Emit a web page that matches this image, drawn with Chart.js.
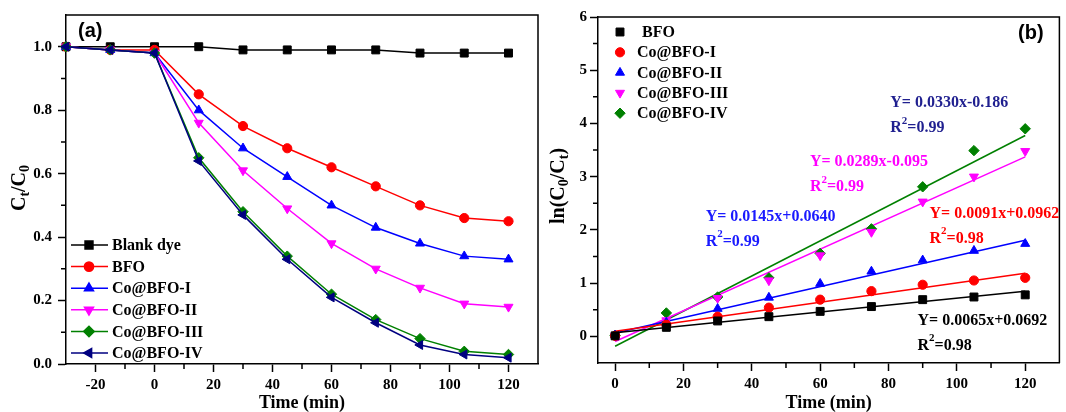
<!DOCTYPE html>
<html>
<head>
<meta charset="utf-8">
<script src="https://cdn.jsdelivr.net/npm/chart.js@4.4.0/dist/chart.umd.min.js"></script>
<style>
  html, body { margin: 0; padding: 0; background: #fff; }
  #wrap { position: relative; width: 1066px; height: 412px; overflow: hidden; }
  #ca { position: absolute; left: 0; top: 0; }
  #cb { position: absolute; left: 540px; top: 0; }
</style>
</head>
<body>
<div id="wrap">
  <canvas id="ca" width="545" height="412"></canvas>
  <canvas id="cb" width="526" height="412"></canvas>
</div>
<script>
// ---- panel (a): Ct/C0 vs time ----
const timeA = [-30, -15, 0, 15, 30, 45, 60, 75, 90, 105, 120];
const blankDye = [1.0, 1.0, 1.0, 1.0, 0.99, 0.99, 0.99, 0.99, 0.98, 0.98, 0.98];
const bfoA     = [1.0, 0.99, 0.99, 0.85, 0.75, 0.68, 0.62, 0.56, 0.50, 0.46, 0.45];
const coBfo1A  = [1.0, 0.99, 0.98, 0.80, 0.68, 0.59, 0.50, 0.43, 0.38, 0.34, 0.33];
const coBfo2A  = [1.0, 0.99, 0.98, 0.76, 0.61, 0.49, 0.38, 0.30, 0.24, 0.19, 0.18];
const coBfo3A  = [1.0, 0.99, 0.98, 0.65, 0.48, 0.34, 0.22, 0.14, 0.08, 0.04, 0.03];
const coBfo4A  = [1.0, 0.99, 0.98, 0.64, 0.47, 0.33, 0.21, 0.13, 0.06, 0.03, 0.02];
const labelsA = ['Blank dye', 'BFO', 'Co@BFO-I', 'Co@BFO-II', 'Co@BFO-III', 'Co@BFO-IV'];
const xTicksA = [-20, 0, 20, 40, 60, 80, 100, 120];
const xMinorA = [-10, 10, 30, 50, 70, 90, 110];
const yTicksA = [0, 0.2, 0.4, 0.6, 0.8, 1.0];
const yMinorA = [0.1, 0.3, 0.5, 0.7, 0.9];

// ---- panel (b): ln(C0/Ct) vs time ----
const timeB = [0, 15, 30, 45, 60, 75, 90, 105, 120];
const bfoB    = [0.01, 0.17, 0.29, 0.37, 0.47, 0.56, 0.69, 0.74, 0.78];
const coBfo1B = [0.01, 0.22, 0.37, 0.54, 0.69, 0.85, 0.97, 1.05, 1.10];
const coBfo2B = [0.02, 0.26, 0.52, 0.73, 0.99, 1.22, 1.43, 1.61, 1.74];
const coBfo3B = [0.01, 0.30, 0.72, 1.05, 1.52, 1.96, 2.53, 3.00, 3.48];
const coBfo4B = [0.02, 0.44, 0.74, 1.10, 1.56, 2.02, 2.81, 3.49, 3.90];
const labelsB = ['BFO', 'Co@BFO-I', 'Co@BFO-II', 'Co@BFO-III', 'Co@BFO-IV'];
const fitSlope = [0.0065, 0.0091, 0.0145, 0.0289, 0.0330];
const fitIntercept = [0.0692, 0.0962, 0.0640, -0.095, -0.186];
const fitRange = [0, 120];
const eqText = ['Y= 0.0065x+0.0692', 'Y= 0.0091x+0.0962', 'Y= 0.0145x+0.0640', 'Y= 0.0289x-0.095', 'Y= 0.0330x-0.186'];
const r2Text = ['0.98', '0.98', '0.99', '0.99', '0.99'];
const xTicksB = [0, 20, 40, 60, 80, 100, 120];
const xMinorB = [10, 30, 50, 70, 90, 110];
const yTicksB = [0, 1, 2, 3, 4, 5, 6];
const yMinorB = [0.5, 1.5, 2.5, 3.5, 4.5, 5.5];

// ---- styles ----
const serif = '"Liberation Serif", "Times New Roman", serif';
const colorsA = ['#000000', '#ff0000', '#0000ff', '#ff00ff', '#008000', '#000080'];
const stylesA = [['rect', 0], ['circle', 0], ['triangle', 0], ['triangle', 180], ['rectRot', 0], ['triangle', 270]];
const colorsB = ['#000000', '#ff0000', '#0000ff', '#ff00ff', '#008000'];
const stylesB = [['rect', 0], ['circle', 0], ['triangle', 0], ['triangle', 180], ['rectRot', 0]];
const eqColors = ['#000000', '#ff0000', '#1a1aff', '#ff00ff', '#1f1f8f'];
// equation anchors in data units (time, ln value)
const eqPos = [[88.5, 0.30], [92, 2.31], [26.5, 2.25], [57, 3.28], [80.5, 4.38]];

function markerSize(style) { return style === 'rect' ? 5.6 : (style === 'circle' ? 4.6 : 5.2); }

function xyData(xs, ys) { return xs.map((x, i) => ({ x: x, y: ys[i] })); }

function axis(min, max, ticks, fmt, isX, fit, pad) {
  return {
    type: 'linear', min: min, max: max,
    afterBuildTicks: s => { s.ticks = ticks.map(v => ({ value: v })); },
    afterFit: s => { if (isX) s.height = fit; else s.width = fit; },
    grid: { drawOnChartArea: false, drawTicks: true, tickLength: 8, tickColor: '#000', tickWidth: 1.5 },
    border: { display: true, color: '#000', width: 1.5 },
    ticks: { color: '#000', font: { family: serif, weight: 'bold', size: 15 }, padding: pad,
             autoSkip: false, maxRotation: 0, callback: fmt },
    title: isX ? { display: true, text: 'Time (min)', color: '#000',
                   font: { family: serif, weight: 'bold', size: 18, lineHeight: 1 }, padding: { top: 0, bottom: 0 } }
               : { display: false }
  };
}

function drawMinor(ctx, scale, vals, horizontal) {
  ctx.save();
  ctx.strokeStyle = '#000';
  ctx.lineWidth = 1.5;
  ctx.beginPath();
  vals.forEach(v => {
    const p = scale.getPixelForValue(v);
    if (horizontal) { ctx.moveTo(p, scale.top); ctx.lineTo(p, scale.top + 5); }
    else { ctx.moveTo(scale.right, p); ctx.lineTo(scale.right - 5, p); }
  });
  ctx.stroke();
  ctx.restore();
}

function drawFrame(ctx, area) {
  ctx.save();
  ctx.strokeStyle = '#000';
  ctx.lineWidth = 1.5;
  ctx.beginPath();
  ctx.moveTo(area.left, area.top);
  ctx.lineTo(area.right, area.top);
  ctx.lineTo(area.right, area.bottom);
  ctx.stroke();
  ctx.restore();
}

// rotated title with subscripts; parts = [[text, isSub], ...]
function drawYTitle(ctx, cx, cy, parts) {
  const big = 'bold 20px ' + serif, small = 'bold 14px ' + serif;
  ctx.save();
  ctx.translate(cx, cy);
  ctx.rotate(-Math.PI / 2);
  let w = 0;
  parts.forEach(p => { ctx.font = p[1] ? small : big; w += ctx.measureText(p[0]).width; });
  let x = -w / 2;
  ctx.fillStyle = '#000';
  ctx.textBaseline = 'alphabetic';
  parts.forEach(p => {
    ctx.font = p[1] ? small : big;
    ctx.fillText(p[0], x, p[1] ? 10 : 6);
    x += ctx.measureText(p[0]).width;
  });
  ctx.restore();
}

function drawMarker(ctx, style, rot, color, x, y) {
  ctx.save();
  ctx.fillStyle = color;
  ctx.strokeStyle = color;
  Chart.helpers.drawPoint(ctx, { pointStyle: style, rotation: rot, radius: markerSize(style), borderWidth: 1 }, x, y);
  ctx.restore();
}

const decorA = {
  id: 'decorA',
  afterDraw(chart) {
    const ctx = chart.ctx, area = chart.chartArea;
    drawFrame(ctx, area);
    drawMinor(ctx, chart.scales.x, xMinorA, true);
    drawMinor(ctx, chart.scales.y, yMinorA, false);
    drawYTitle(ctx, 19, 188, [['C', false], ['t', true], ['/C', false], ['0', true]]);
    ctx.save();
    ctx.font = 'bold 20px "Liberation Sans", Arial, sans-serif';
    ctx.fillStyle = '#000';
    ctx.textBaseline = 'middle';
    ctx.fillText('(a)', 78, 31);
    // legend
    ctx.font = 'bold 16px ' + serif;
    labelsA.forEach((lab, i) => {
      const y = 245 + i * 21.6;
      ctx.strokeStyle = colorsA[i];
      ctx.lineWidth = 1.5;
      ctx.beginPath(); ctx.moveTo(71, y); ctx.lineTo(108, y); ctx.stroke();
      drawMarker(ctx, stylesA[i][0], stylesA[i][1], colorsA[i], 89, y);
      ctx.fillStyle = '#000';
      ctx.fillText(lab, 112, y + 1);
    });
    ctx.restore();
  }
};

const decorB = {
  id: 'decorB',
  afterDraw(chart) {
    const ctx = chart.ctx, area = chart.chartArea;
    const sx = chart.scales.x, sy = chart.scales.y;
    drawFrame(ctx, area);
    drawMinor(ctx, sx, xMinorB, true);
    drawMinor(ctx, sy, yMinorB, false);
    drawYTitle(ctx, 18, 186, [['ln(C', false], ['0', true], ['/C', false], ['t', true], [')', false]]);
    ctx.save();
    ctx.font = 'bold 20px "Liberation Sans", Arial, sans-serif';
    ctx.fillStyle = '#000';
    ctx.textBaseline = 'middle';
    ctx.fillText('(b)', 478, 33);
    // legend (markers only)
    ctx.font = 'bold 16px ' + serif;
    labelsB.forEach((lab, i) => {
      const y = 32 + i * 20.3;
      drawMarker(ctx, stylesB[i][0], stylesB[i][1], colorsB[i], 80, y);
      ctx.fillStyle = '#000';
      ctx.fillText(lab, i === 0 ? 102 : 97, y + 1);
    });
    // fit equations
    eqText.forEach((t, i) => {
      const x = sx.getPixelForValue(eqPos[i][0]);
      const y = sy.getPixelForValue(eqPos[i][1]);
      ctx.fillStyle = eqColors[i];
      ctx.font = 'bold 16px ' + serif;
      ctx.fillText(t, x, y);
      const y2 = y + 25;
      ctx.fillText('R', x, y2);
      const rw = ctx.measureText('R').width;
      ctx.font = 'bold 11px ' + serif;
      ctx.fillText('2', x + rw, y2 - 7);
      const sw = ctx.measureText('2').width;
      ctx.font = 'bold 16px ' + serif;
      ctx.fillText('=' + r2Text[i], x + rw + sw, y2);
    });
    ctx.restore();
  }
};

const dsA = [blankDye, bfoA, coBfo1A, coBfo2A, coBfo3A, coBfo4A].map((ys, i) => ({
  label: labelsA[i],
  data: xyData(timeA, ys),
  borderColor: colorsA[i],
  backgroundColor: colorsA[i],
  borderWidth: 1.5,
  pointStyle: stylesA[i][0],
  rotation: stylesA[i][1],
  pointRadius: markerSize(stylesA[i][0]),
  pointBorderWidth: 1,
  tension: 0,
  clip: false,
  order: 10 - i
}));

new Chart(document.getElementById('ca'), {
  type: 'line',
  data: { datasets: dsA },
  options: {
    responsive: false,
    animation: false,
    layout: { padding: { left: 0, top: 12, right: 7, bottom: 0 } },
    plugins: { legend: { display: false }, tooltip: { enabled: false } },
    scales: {
      x: axis(-30, 130, xTicksA, v => String(v), true, 48, 4),
      y: axis(0, 1.1, yTicksA, v => v.toFixed(1), false, 66, 6)
    }
  },
  plugins: [decorA]
});

const seriesB = [bfoB, coBfo1B, coBfo2B, coBfo3B, coBfo4B];
const dsB = [];
seriesB.forEach((ys, i) => {
  dsB.push({
    label: labelsB[i],
    data: xyData(timeB, ys),
    showLine: false,
    borderColor: colorsB[i],
    backgroundColor: colorsB[i],
    pointStyle: stylesB[i][0],
    rotation: stylesB[i][1],
    pointRadius: markerSize(stylesB[i][0]),
    pointBorderWidth: 1,
    clip: false,
    order: 1
  });
  dsB.push({
    label: labelsB[i] + ' fit',
    data: fitRange.map(x => ({ x: x, y: fitSlope[i] * x + fitIntercept[i] })),
    showLine: true,
    borderColor: colorsB[i],
    borderWidth: 1.5,
    pointRadius: 0,
    order: 2
  });
});

new Chart(document.getElementById('cb'), {
  type: 'scatter',
  data: { datasets: dsB },
  options: {
    responsive: false,
    animation: false,
    layout: { padding: { left: 0, top: 17, right: 1, bottom: 0 } },
    plugins: { legend: { display: false }, tooltip: { enabled: false } },
    scales: {
      x: axis(-5, 130, xTicksB, v => String(v), true, 49, 4),
      y: axis(-0.5, 6, yTicksB, v => String(v), false, 58, 3)
    }
  },
  plugins: [decorB]
});
</script>
</body>
</html>
